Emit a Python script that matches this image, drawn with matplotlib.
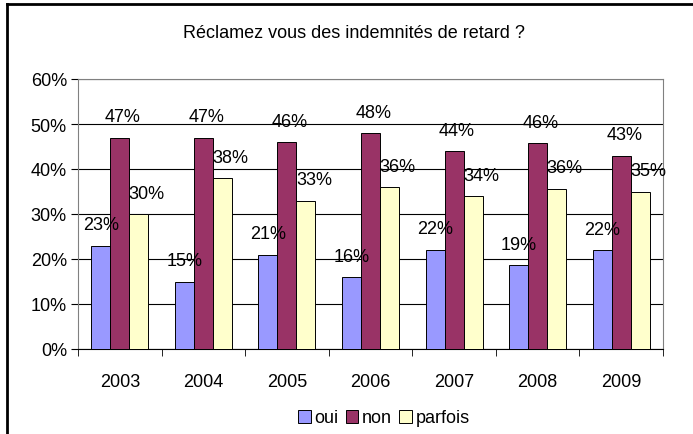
import numpy as np
import matplotlib.pyplot as plt
from matplotlib.lines import Line2D

plt.rcParams['font.family'] = ['Liberation Sans', 'DejaVu Sans']

annees = ['2003', '2004', '2005', '2006', '2007', '2008', '2009']
oui = [0.23, 0.15, 0.21, 0.16, 0.221, 0.187, 0.219]
non = [0.47, 0.47, 0.459, 0.479, 0.44, 0.458, 0.43]
parfois = [0.30, 0.38, 0.33, 0.36, 0.34, 0.356, 0.35]
series = ['oui', 'non', 'parfois']

couleurs = ['#9999FF', '#993366', '#FFFFCC']
decal_txt = [0, 3, 8]  # petit decalage horizontal des etiquettes (px)

fig = plt.figure(figsize=(6.93, 4.35), dpi=100)
ax = fig.add_axes([78/693, 85/435, 585/693, 270/435])

x = np.arange(len(annees))
w = 0.227
for k, (vals, nom) in enumerate(zip([oui, non, parfois], series)):
    pos = x + (k - 1) * w
    ax.bar(pos, vals, w, color=couleurs[k], edgecolor='black', linewidth=0.7,
           label=nom, zorder=3)
    for xi, v in zip(pos, vals):
        ax.annotate('%d%%' % round(v * 100), (xi, v), xytext=(decal_txt[k] * 0.72, 15),
                    textcoords='offset points', ha='center', va='center',
                    fontsize=13, zorder=4)

ax.set_xlim(-0.5, len(annees) - 0.5)
ax.set_ylim(0, 0.6)
ax.set_yticks(np.arange(0, 0.61, 0.1))
ax.set_yticklabels(['%d%%' % (v * 100) for v in np.arange(0, 0.61, 0.1)], fontsize=13)
ax.yaxis.grid(True, color='black', linewidth=0.8, zorder=0)
ax.set_xticks(x)
ax.set_xticklabels(annees, fontsize=13)
ax.set_xticks(np.arange(-0.5, len(annees)), minor=True)
ax.tick_params(axis='x', which='major', length=0, pad=17)
ax.tick_params(axis='x', which='minor', length=5, color='black')
ax.tick_params(axis='y', length=5, pad=3)

for s in ['top', 'right']:
    ax.spines[s].set_color('#808080')
ax.spines['left'].set_color('#808080')
ax.spines['bottom'].set_color('black')

fig.text(0.511, 1 - 33/435, 'Réclamez vous des indemnités de retard ?',
         ha='center', va='center', fontsize=13)

fig.legend(loc='center', bbox_to_anchor=(0.554, 1 - 419/435), ncol=3,
           frameon=False, fontsize=13, handlelength=0.7, handleheight=0.7,
           handletextpad=0.2, columnspacing=0.4)

# cadre du graphique
fig.add_artist(Line2D([7/693, 7/693], [0, 1 - 4.5/435], transform=fig.transFigure,
                      color='black', linewidth=2))
fig.add_artist(Line2D([7/693, 1], [1 - 4.5/435, 1 - 4.5/435], transform=fig.transFigure,
                      color='black', linewidth=2))

fig.savefig('out.png', dpi=100)
